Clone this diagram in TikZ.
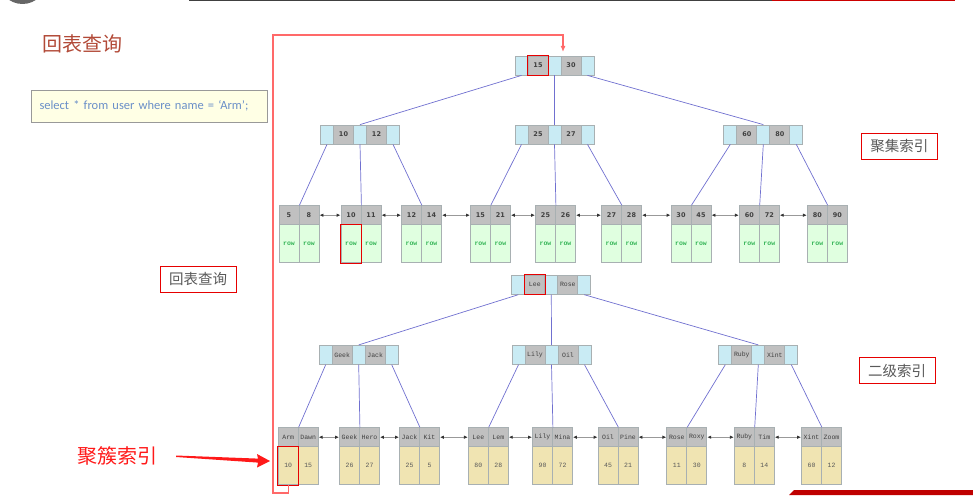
\documentclass[tikz,border=0pt]{standalone}
\usepackage{fontspec}
\usepackage{tikz}
\usetikzlibrary{arrows.meta, calc}
\usepackage{xcolor}
\newfontfamily\cjk{Noto Sans CJK SC}
\newfontfamily\sqlfont{Carlito}
\newfontfamily\numfont{DejaVu Sans}
\newfontfamily\codefont{Liberation Mono}
\definecolor{ptrblue}{RGB}{201,235,244}
\definecolor{keygray}{RGB}{192,192,192}
\definecolor{cellline}{RGB}{168,176,178}
\definecolor{rowfill}{RGB}{224,255,224}
\definecolor{rowgreen}{RGB}{51,180,85}
\definecolor{valfill}{RGB}{240,228,178}
\definecolor{linkblue}{RGB}{112,112,208}
\definecolor{titlered}{RGB}{178,74,56}
\definecolor{sqlblue}{RGB}{106,143,200}
\definecolor{sqlfill}{RGB}{255,255,229}
\definecolor{backred}{RGB}{255,105,105}
\definecolor{markred}{RGB}{230,0,0}
\tikzset{
    ptrcell/.style = {rectangle, minimum width=13pt, minimum height=19pt, inner sep=0pt, draw=cellline, fill=ptrblue, line width=0.8pt},
    keycell/.style = {rectangle, minimum width=20pt, minimum height=19pt, inner sep=0pt, draw=cellline, fill=keygray, line width=0.8pt, text=black!75},
    rowcell/.style = {rectangle, minimum width=20pt, minimum height=38pt, inner sep=0pt, draw=cellline, fill=rowfill, line width=0.8pt, text=rowgreen, font=\codefont\bfseries\fontsize{6.5}{7}\selectfont},
    valcell/.style = {rectangle, minimum width=20pt, minimum height=38pt, inner sep=0pt, draw=cellline, fill=valfill, line width=0.8pt, text=black!65, font=\codefont\fontsize{6.5}{7}\selectfont},
    link/.style = {draw=linkblue, line width=0.7pt},
    leafarrow/.style = {draw=black!40, line width=1.2pt, {Latex[length=4pt,width=3.5pt,color=black!80]}-{Latex[length=4pt,width=3.5pt,color=black!80]}},
    tag/.style = {rectangle, minimum width=76pt, minimum height=26pt, inner sep=0pt, draw=markred, line width=0.9pt, text=black!65, font=\cjk\fontsize{14.5}{16}\selectfont},
    hlbox/.style = {draw=markred, line width=1pt},
    backline/.style = {draw=backred, line width=1.4pt, -{Latex[length=6pt,width=5pt]}}
}
% inner node: name, x, y, left key, right key
\newcommand{\treenode}[5]{%
    \node[ptrcell] (#1-p0) at (#2-33,#3) {};
    \node[keycell] (#1-k1) at (#2-16.5,#3) {#4};
    \node[ptrcell] (#1-p1) at (#2,#3) {};
    \node[keycell] (#1-k2) at (#2+16.5,#3) {#5};
    \node[ptrcell] (#1-p2) at (#2+33,#3) {};
}
% leaf: [cell style], name, x, y, keys, values
\newcommand{\treeleaf}[8][rowcell]{%
    \node[keycell] (#2-k1) at (#3-10,#4) {#5};
    \node[keycell] (#2-k2) at (#3+10,#4) {#6};
    \node[#1] (#2-v1) at (#3-10,#4+28.5) {#7};
    \node[#1] (#2-v2) at (#3+10,#4+28.5) {#8};
}

\begin{document}
\begin{tikzpicture}[x=1pt,y=-1pt]
\useasboundingbox (0,0) rectangle (973,495);
\clip (0,0) rectangle (973,495);

% slide decorations
\fill[black!60] (22.5,-20) circle (24);
\draw[black!75, line width=1.5pt] (189,0.5) -- (772,0.5);
\draw[red!80!black, line width=1.5pt] (772,0.5) -- (955,0.5);
\fill[red!75!black] (789,495) -- (794,490) -- (973,490) -- (973,495) -- cycle;

% labels
\node[anchor=west, text=titlered, font=\cjk\fontsize{20}{22}\selectfont] (title) at (39,44) {回表查询};
\node[rectangle, draw=black!40, fill=sqlfill, minimum width=236pt, minimum height=31.5pt, text width=220pt, align=left, inner xsep=8pt, text=sqlblue, font=\sqlfont\fontsize{12.5}{14}\selectfont] (query) at (149.5,106) {\raisebox{-3pt}{select * from user where name = ‘Arm’;}};
\node[tag] (backtag) at (198,279.3) {回表查询};
\node[tag] (clustag) at (899.3,146.5) {聚集索引};
\node[tag] (sectag) at (897,370.5) {二级索引};
\node[text=red!90, font=\cjk\fontsize{20}{22}\selectfont] (pkey) at (117.5,456) {聚簇索引};
\fill[red!90] (176,455.5) -- (258,458.6) -- (257,454) -- (270,461) -- (257,467.5) -- (258,462.6) -- (176,457) -- cycle;

% clustered index
\begin{scope}[keycell/.append style={font=\numfont\bfseries\fontsize{6.5}{8}\selectfont}]
\treenode{cr}{554.5}{65.5}{15}{30}
\treenode{ca}{360}{134.5}{10}{12}
\treenode{cb}{554.5}{134.5}{25}{27}
\treenode{cc}{763.3}{134.5}{60}{80}
\treeleaf{c1}{299}{215.2}{5}{8}{row}{row}
\treeleaf{c2}{361}{215.2}{10}{11}{row}{row}
\treeleaf{c3}{421.5}{215.2}{12}{14}{row}{row}
\treeleaf{c4}{490.4}{215.2}{15}{21}{row}{row}
\treeleaf{c5}{555.5}{215.2}{25}{26}{row}{row}
\treeleaf{c6}{621.5}{215.2}{27}{28}{row}{row}
\treeleaf{c7}{691}{215.2}{30}{45}{row}{row}
\treeleaf{c8}{759.3}{215.2}{60}{72}{row}{row}
\treeleaf{c9}{827.3}{215.2}{80}{90}{row}{row}
\end{scope}

\draw[link] (cr-p0.south) -- (ca-p1.north);
\draw[link] (cr-p1.south) -- (cb-p1.north);
\draw[link] (cr-p2.south) -- (cc-p1.north);
\draw[link] (ca-p0.south) -- (c1-k1.north east);
\draw[link] (ca-p1.south) -- (c2-k1.north east);
\draw[link] (ca-p2.south) -- (c3-k1.north east);
\draw[link] (cb-p0.south) -- (c4-k1.north east);
\draw[link] (cb-p1.south) -- (c5-k1.north east);
\draw[link] (cb-p2.south) -- (c6-k1.north east);
\draw[link] (cc-p0.south) -- (c7-k1.north east);
\draw[link] (cc-p1.south) -- (c8-k1.north east);
\draw[link] (cc-p2.south) -- (c9-k1.north east);

\draw[leafarrow] (c1-k2.east) -- (c2-k1.west);
\draw[leafarrow] (c2-k2.east) -- (c3-k1.west);
\draw[leafarrow] (c3-k2.east) -- (c4-k1.west);
\draw[leafarrow] (c4-k2.east) -- (c5-k1.west);
\draw[leafarrow] (c5-k2.east) -- (c6-k1.west);
\draw[leafarrow] (c6-k2.east) -- (c7-k1.west);
\draw[leafarrow] (c7-k2.east) -- (c8-k1.west);
\draw[leafarrow] (c8-k2.east) -- (c9-k1.west);

% secondary index
\begin{scope}[keycell/.append style={font=\codefont\fontsize{6.5}{8}\selectfont}]
\treenode{sr}{551.3}{284.8}{Lee}{Rose}
\treenode{sa}{358.7}{354.8}{Geek}{Jack}
\treenode{sb}{551.5}{354.8}{Lily}{Oil}
\treenode{sc}{758.3}{354.8}{Ruby}{Xint}
\treeleaf[valcell]{s1}{298.2}{437.2}{Arm}{Dawn}{10}{15}
\treeleaf[valcell]{s2}{359.5}{437.2}{Geek}{Hero}{26}{27}
\treeleaf[valcell]{s3}{419.5}{437.2}{Jack}{Kit}{25}{5}
\treeleaf[valcell]{s4}{488.3}{437.2}{Lee}{Lem}{80}{28}
\treeleaf[valcell]{s5}{552.5}{437.2}{Lily}{Mina}{90}{72}
\treeleaf[valcell]{s6}{618}{437.2}{Oil}{Pine}{45}{21}
\treeleaf[valcell]{s7}{686.8}{437.2}{Rose}{Roxy}{11}{30}
\treeleaf[valcell]{s8}{754.3}{437.2}{Ruby}{Tim}{8}{14}
\treeleaf[valcell]{s9}{821.5}{437.2}{Xint}{Zoom}{60}{12}
\end{scope}

\draw[link] (sr-p0.south) -- (sa-p1.north);
\draw[link] (sr-p1.south) -- (sb-p1.north);
\draw[link] (sr-p2.south) -- (sc-p1.north);
\draw[link] (sa-p0.south) -- (s1-k1.north east);
\draw[link] (sa-p1.south) -- (s2-k1.north east);
\draw[link] (sa-p2.south) -- (s3-k1.north east);
\draw[link] (sb-p0.south) -- (s4-k1.north east);
\draw[link] (sb-p1.south) -- (s5-k1.north east);
\draw[link] (sb-p2.south) -- (s6-k1.north east);
\draw[link] (sc-p0.south) -- (s7-k1.north east);
\draw[link] (sc-p1.south) -- (s8-k1.north east);
\draw[link] (sc-p2.south) -- (s9-k1.north east);

\draw[leafarrow] (s1-k2.east) -- (s2-k1.west);
\draw[leafarrow] (s2-k2.east) -- (s3-k1.west);
\draw[leafarrow] (s3-k2.east) -- (s4-k1.west);
\draw[leafarrow] (s4-k2.east) -- (s5-k1.west);
\draw[leafarrow] (s5-k2.east) -- (s6-k1.west);
\draw[leafarrow] (s6-k2.east) -- (s7-k1.west);
\draw[leafarrow] (s7-k2.east) -- (s8-k1.west);
\draw[leafarrow] (s8-k2.east) -- (s9-k1.west);

% highlighted cells and the way back to the clustered index
\draw[hlbox] (cr-k1.north west) rectangle (cr-k1.south east);
\draw[hlbox] (c2-v1.north west) rectangle (c2-v1.south east);
\draw[hlbox] (sr-k1.north west) rectangle (sr-k1.south east);
\draw[hlbox] (s1-v1.north west) rectangle (s1-v1.south east);

\coordinate (backbottom) at (273,493);
\coordinate (backtop) at (273,35);
\coordinate (backend) at (563,52);
\draw[backline] (s1-v1.south) |- (backbottom) -- (backtop) -| (backend);
\end{tikzpicture}
\end{document}
